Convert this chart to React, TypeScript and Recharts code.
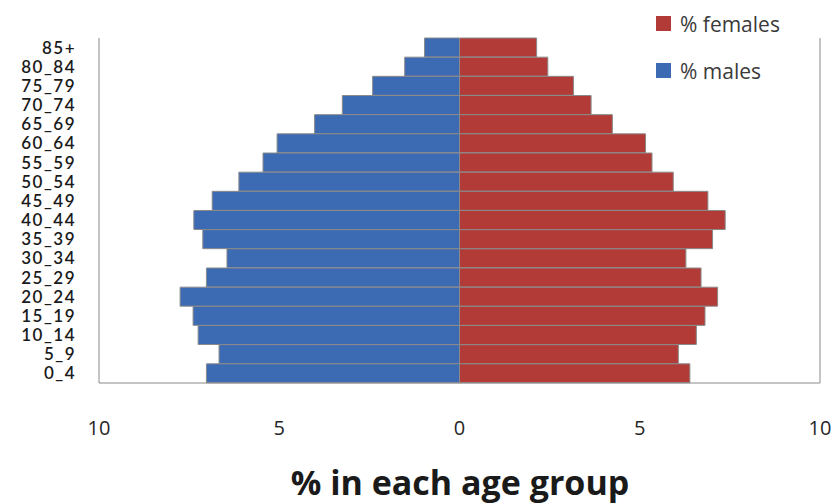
import React from 'react';
import { BarChart, Bar, XAxis, YAxis, ReferenceLine } from 'recharts';

const ageGroups = ['85+', '80_84', '75_79', '70_74', '65_69', '60_64', '55_59', '50_54', '45_49', '40_44', '35_39', '30_34', '25_29', '20_24', '15_19', '10_14', '5_9', '0_4'];
const malesPct = [0.97, 1.52, 2.41, 3.25, 4.02, 5.06, 5.45, 6.12, 6.86, 7.37, 7.12, 6.45, 7.02, 7.75, 7.39, 7.25, 6.67, 7.02];
const femalesPct = [2.14, 2.45, 3.16, 3.65, 4.24, 5.16, 5.34, 5.93, 6.89, 7.37, 7.02, 6.28, 6.7, 7.16, 6.81, 6.57, 6.07, 6.39];
const xTicks = [-10, -5, 0, 5, 10];

const BLUE = '#3D6BB3';
const RED = '#B23B37';
const GRID = '#8a8a8a';

const data = ageGroups.map((age, i) => ({
  age,
  males: -malesPct[i],
  females: femalesPct[i],
}));

const legendItems = [
  { label: '% females', color: RED },
  { label: '% males', color: BLUE },
];

export default function App() {
  return (
    <div style={{ position: 'absolute', left: 0, top: 0, width: 834, height: 504, background: '#fff' }}>
      <BarChart
        width={834}
        height={504}
        data={data}
        layout="vertical"
        stackOffset="sign"
        barCategoryGap={0}
        margin={{ top: 38, right: 14, bottom: 61, left: 0 }}
      >
        <XAxis
          type="number"
          domain={[-10, 10]}
          ticks={xTicks}
          tickFormatter={(v: number) => String(Math.abs(v))}
          axisLine={{ stroke: GRID }}
          tickLine={false}
          tickSize={0}
          tickMargin={38}
          height={60}
          tick={{ fill: '#262626', fontSize: 20, fontFamily: '"Open Sans", sans-serif' }}
        />
        <YAxis
          type="category"
          dataKey="age"
          width={99}
          axisLine={{ stroke: GRID }}
          tickLine={false}
          tickSize={0}
          tickMargin={23}
          interval={0}
          tick={{ fill: '#1a1a1a', fontSize: 17, fontFamily: 'Lato, sans-serif', fontWeight: 600, letterSpacing: 1.5 }}
        />
        <ReferenceLine x={10} stroke={GRID} />
        <Bar dataKey="females" stackId="a" fill={RED} stroke={GRID} strokeWidth={1} isAnimationActive={false} />
        <Bar dataKey="males" stackId="a" fill={BLUE} stroke={GRID} strokeWidth={1} isAnimationActive={false} />
      </BarChart>
      <div
        style={{
          position: 'absolute',
          left: 656,
          top: 0,
          fontFamily: '"Open Sans", sans-serif',
          fontSize: 21,
          color: '#3a3a3a',
        }}
      >
        {legendItems.map((item) => (
          <div key={item.label} style={{ display: 'flex', alignItems: 'center', height: 47 }}>
            <span style={{ display: 'inline-block', width: 15, height: 15, background: item.color, marginRight: 9 }} />
            {item.label}
          </div>
        ))}
      </div>
      <div
        style={{
          position: 'absolute',
          left: 210,
          top: 459,
          width: 500,
          textAlign: 'center',
          fontFamily: '"Open Sans", sans-serif',
          fontWeight: 700,
          fontSize: 34,
          color: '#1a1a1a',
        }}
      >
        % in each age group
      </div>
    </div>
  );
}
